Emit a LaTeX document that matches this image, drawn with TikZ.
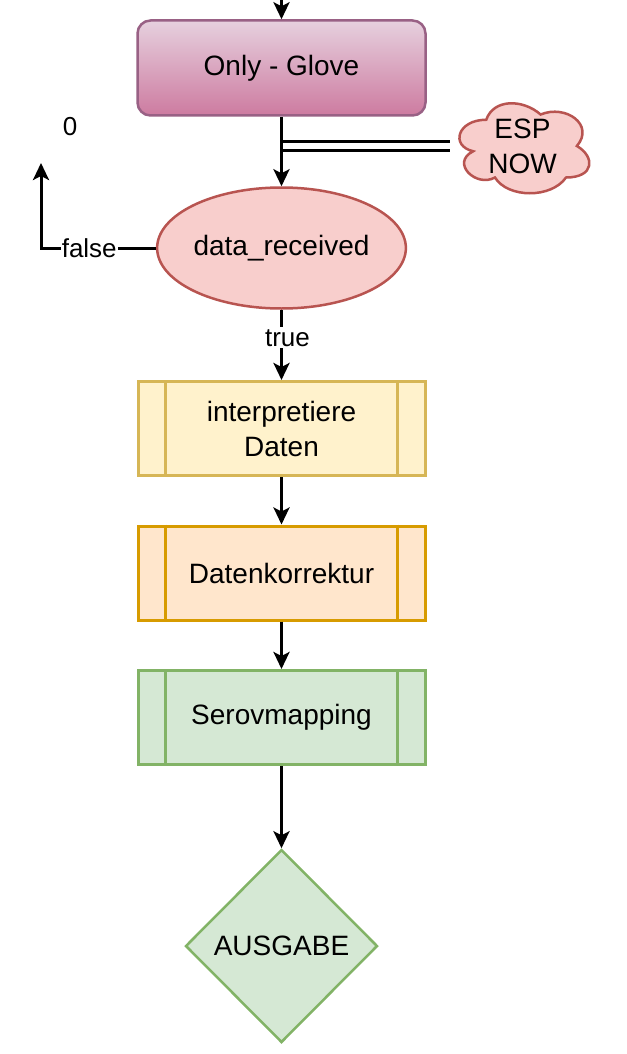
\documentclass[tikz,border=0pt]{standalone}
\usepackage{fontspec}
\setmainfont{Liberation Sans}
\usetikzlibrary{arrows.meta,shapes.geometric,calc}
\definecolor{redfill}{HTML}{F8CECC}
\definecolor{redline}{HTML}{B85450}
\definecolor{yelfill}{HTML}{FFF2CC}
\definecolor{yelline}{HTML}{D6B656}
\definecolor{orafill}{HTML}{FFE6CC}
\definecolor{oraline}{HTML}{D79B00}
\definecolor{grefill}{HTML}{D5E8D4}
\definecolor{greline}{HTML}{82B366}
\definecolor{purtop}{HTML}{E6D0DE}
\definecolor{purbot}{HTML}{CD7BA0}
\definecolor{purline}{HTML}{996185}
\tikzset{
  txt/.style={font=\fontsize{28}{35}\selectfont, align=center, text=black},
  lbl/.style={font=\fontsize{26}{30}\selectfont, text=black},
  procbox/.style={txt, draw, rectangle, line width=3pt, minimum width=287pt, minimum height=94pt, inner sep=0pt},
  flow/.style={line width=3pt, -{Stealth[length=17pt,width=16pt,inset=4pt]}},
}
\begin{document}
\begin{tikzpicture}[x=1pt,y=-1pt]
\useasboundingbox (0,0) rectangle (626,1054);
\fill[white] (0,0) rectangle (626,1054);

% Only - Glove
\node[txt, draw=purline, top color=purtop, bottom color=purbot, rounded corners=13pt,
      line width=2.5pt, minimum width=288pt, minimum height=95pt, inner sep=0pt]
      (glove) at (281.5,68) {Only - Glove};
\coordinate (topin) at (281.5,0);
\draw[flow] (topin) -- (glove.north);

\node[lbl] (zero) at (70,127) {0};

% cloud
\begin{scope}[shift={(450,93.5)}, x=145pt, y=-105pt]
\draw[fill=redfill, draw=redline, line width=2.5pt]
  (0.25,0.25) .. controls (0.05,0.25) and (0,0.5) .. (0.16,0.55)
  .. controls (0,0.66) and (0.18,0.9) .. (0.31,0.8)
  .. controls (0.4,1) and (0.7,1) .. (0.8,0.8)
  .. controls (1,0.8) and (1,0.6) .. (0.875,0.5)
  .. controls (1,0.3) and (0.8,0.1) .. (0.625,0.2)
  .. controls (0.5,0.05) and (0.3,0.05) .. (0.25,0.25) -- cycle;
\end{scope}
\node[txt, minimum width=145pt, minimum height=105pt, inner sep=0pt] (esp) at (522.5,146) {ESP\\NOW};

% decision ellipse
\node[txt, ellipse, draw=redline, fill=redfill, line width=2.5pt,
      minimum width=248pt, minimum height=121pt, inner sep=0pt] (dec) at (281.5,248) {data\_received};

% double link to cloud
\coordinate (junc) at (281.5,145.5);
\draw[line width=3pt, double=white, double distance=6pt] (junc) -- (esp.west |- junc);
\draw[flow] (glove.south) -- (dec.north);

% false branch
\coordinate (fend) at (41,163);
\draw[flow] (dec.west) -| node[pos=0.29, lbl, fill=white, inner sep=1pt] (flbl) {false} (fend);

% process boxes
\node[procbox, draw=yelline, fill=yelfill] (interp) at (281.5,428.5) {interpretiere\\Daten};
\node[procbox, draw=oraline, fill=orafill] (korr) at (281.5,573) {Datenkorrektur};
\node[procbox, draw=greline, fill=grefill] (servo) at (281.5,717.5) {Serovmapping};
\foreach \n/\c in {interp/yelline, korr/oraline, servo/greline}{
  \draw[line width=3pt, draw=\c] ([xshift=29pt]\n.north west) -- ([xshift=29pt]\n.south west);
  \draw[line width=3pt, draw=\c] ([xshift=-29pt]\n.north east) -- ([xshift=-29pt]\n.south east);
}

\draw[flow] (dec.south) -- node[pos=0.4, lbl, fill=white, inner sep=2pt, xshift=6pt] (tlbl) {true} (interp.north);
\draw[flow] (interp.south) -- (korr.north);
\draw[flow] (korr.south) -- (servo.north);

% output diamond
\node[txt, diamond, draw=greline, fill=grefill, line width=2.5pt,
      minimum width=192pt, minimum height=193pt, inner sep=0pt, aspect=1] (out) at (281.5,946) {AUSGABE};
\draw[flow] (servo.south) -- (out.north);
\end{tikzpicture}
\end{document}
